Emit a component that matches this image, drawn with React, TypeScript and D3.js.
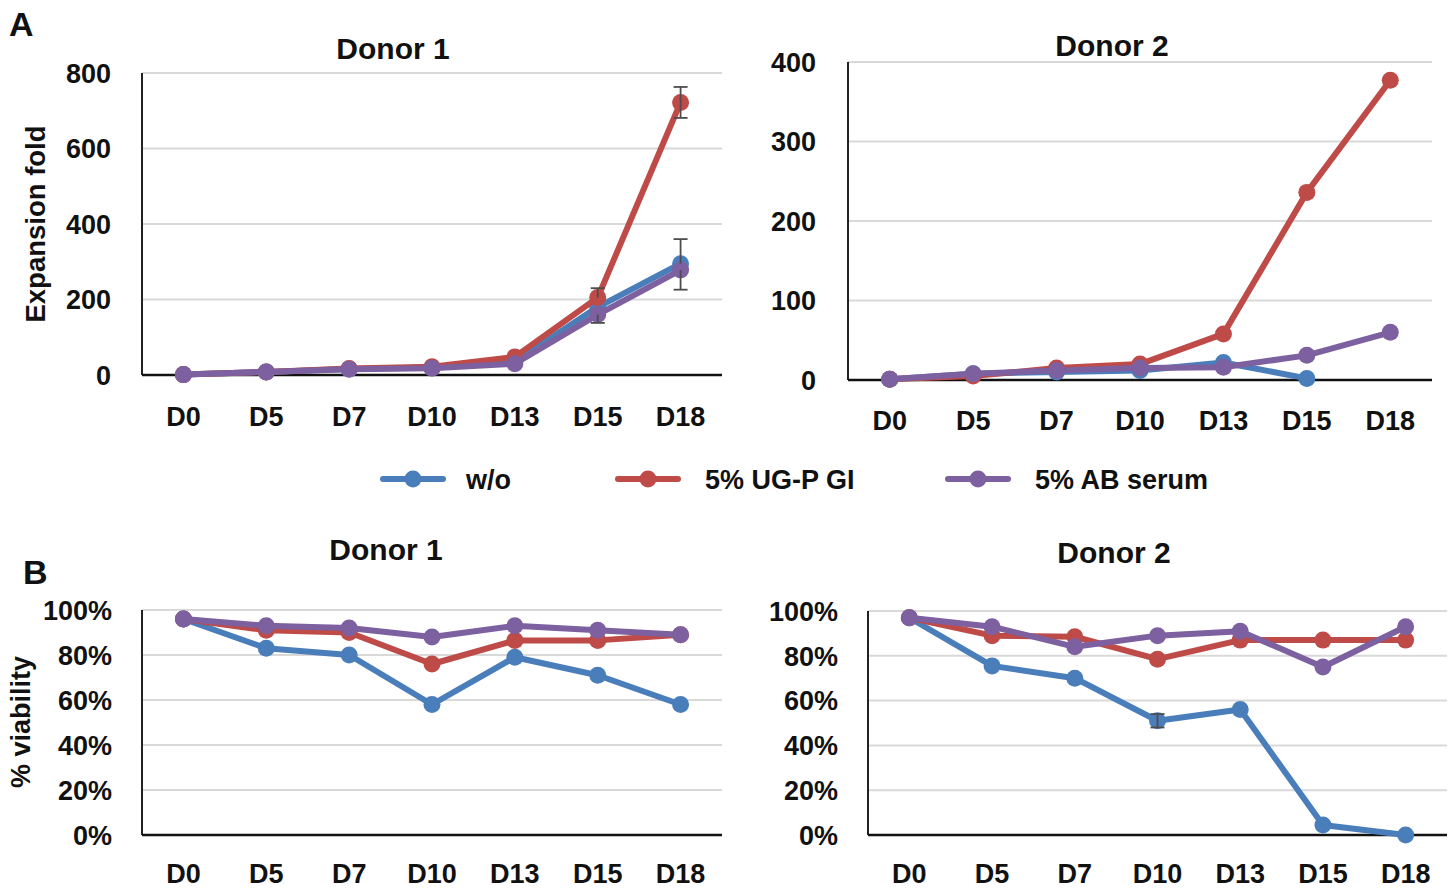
import { useEffect, useRef } from 'react';
import * as d3 from 'd3';

const days = ['D0', 'D5', 'D7', 'D10', 'D13', 'D15', 'D18'];
const seriesNames = ['w/o', '5% UG-P GI', '5% AB serum'];
const seriesColors = ['#4a7ebb', '#be4b48', '#7d60a0'];

// Expansion fold, donor 1
const expD1Wo = [1, 8, 16, 20, 35, 180, 295];
const expD1Ug = [1, 8, 17, 22, 48, 205, 722];
const expD1Ab = [1, 8, 15, 18, 30, 160, 278];
// error bars as upper / lower extents (only the visible parts)
const expD1WoErrUp = [0, 0, 0, 0, 0, 0, 65];
const expD1WoErrDown = [0, 0, 0, 0, 0, 0, 0];
const expD1UgErrUp = [0, 0, 0, 0, 0, 25, 41];
const expD1UgErrDown = [0, 0, 0, 0, 0, 0, 41];
const expD1AbErrUp = [0, 0, 0, 0, 0, 0, 0];
const expD1AbErrDown = [0, 0, 0, 0, 0, 22, 52];

// Expansion fold, donor 2 (w/o stops at D15)
const expD2Wo = [1, 8, 10, 12, 22, 2, null];
const expD2Ug = [1, 5, 15, 20, 58, 236, 377];
const expD2Ab = [1, 8, 12, 15, 16, 31, 60];

// Viability, donor 1
const viaD1Wo = [0.96, 0.83, 0.80, 0.58, 0.79, 0.71, 0.58];
const viaD1Ug = [0.96, 0.91, 0.90, 0.76, 0.865, 0.865, 0.89];
const viaD1Ab = [0.96, 0.93, 0.92, 0.88, 0.93, 0.91, 0.89];

// Viability, donor 2
const viaD2Wo = [0.97, 0.755, 0.70, 0.51, 0.56, 0.045, 0.0];
const viaD2Ug = [0.97, 0.89, 0.885, 0.785, 0.87, 0.87, 0.87];
const viaD2Ab = [0.97, 0.93, 0.84, 0.89, 0.91, 0.75, 0.93];
const viaD2WoErr = [0, 0, 0, 0.03, 0, 0, 0];

const expD1Ticks = [0, 200, 400, 600, 800];
const expD2Ticks = [0, 100, 200, 300, 400];
const viaTicks = [0, 0.2, 0.4, 0.6, 0.8, 1.0];

const FONT = "'Liberation Sans', Arial, sans-serif";

type Err = { up: number[]; down: number[] } | null;

type Panel = {
  title: string;
  x0: number; x1: number; yBottom: number; yTop: number;
  max: number; ticks: number[]; fmt: (v: number) => string;
  series: (number | null)[][];
  errors: Err[];
  titleX: number; titleY: number; tickLabelY: number; yLabelX: number;
};

type Sel = d3.Selection<SVGGElement | SVGSVGElement, unknown, null, undefined>;

function label(parent: Sel, x: number, y: number, text: string, size: number,
  anchor = 'start', rotate = 0, dy = '0') {
  parent.append('text')
    .attr('transform', `translate(${x},${y}) rotate(${rotate})`)
    .attr('text-anchor', anchor).attr('dy', dy)
    .attr('font-family', FONT).attr('font-weight', 'bold').attr('font-size', size)
    .attr('fill', '#111').text(text);
}

export default function App() {
  const svgRef = useRef<SVGSVGElement>(null);

  useEffect(() => {
    if (!svgRef.current) return;
    const svg = d3.select(svgRef.current) as unknown as Sel;
    svg.selectAll('*').remove();

    const pct = (v: number) => `${Math.round(v * 100)}%`;
    const num = (v: number) => `${v}`;

    const panels: Panel[] = [
      { title: 'Donor 1', x0: 142, x1: 722, yBottom: 375, yTop: 73, max: 800, ticks: expD1Ticks, fmt: num,
        series: [expD1Wo, expD1Ug, expD1Ab],
        errors: [
          { up: expD1WoErrUp, down: expD1WoErrDown },
          { up: expD1UgErrUp, down: expD1UgErrDown },
          { up: expD1AbErrUp, down: expD1AbErrDown },
        ],
        titleX: 393, titleY: 59, tickLabelY: 426, yLabelX: 111 },
      { title: 'Donor 2', x0: 848, x1: 1432, yBottom: 380, yTop: 62, max: 400, ticks: expD2Ticks, fmt: num,
        series: [expD2Wo, expD2Ug, expD2Ab], errors: [null, null, null],
        titleX: 1112, titleY: 56, tickLabelY: 430, yLabelX: 816 },
      { title: 'Donor 1', x0: 142, x1: 722, yBottom: 835, yTop: 610, max: 1, ticks: viaTicks, fmt: pct,
        series: [viaD1Wo, viaD1Ug, viaD1Ab], errors: [null, null, null],
        titleX: 386, titleY: 560, tickLabelY: 883, yLabelX: 112 },
      { title: 'Donor 2', x0: 868, x1: 1447, yBottom: 835, yTop: 611, max: 1, ticks: viaTicks, fmt: pct,
        series: [viaD2Wo, viaD2Ug, viaD2Ab], errors: [{ up: viaD2WoErr, down: viaD2WoErr }, null, null],
        titleX: 1114, titleY: 563, tickLabelY: 883, yLabelX: 838 },
    ];

    panels.forEach(p => {
      const g = svg.append('g') as unknown as Sel;
      const x = d3.scalePoint<string>().domain(days).range([p.x0, p.x1]).padding(0.5);
      const y = d3.scaleLinear().domain([0, p.max]).range([p.yBottom, p.yTop]);

      // gridlines
      g.selectAll('line.grid').data(p.ticks.filter(t => t > 0)).join('line')
        .attr('x1', p.x0).attr('x2', p.x1)
        .attr('y1', d => y(d)).attr('y2', d => y(d))
        .attr('stroke', '#d9d9d9').attr('stroke-width', 2);

      // axes lines
      g.append('line').attr('x1', p.x0).attr('x2', p.x0).attr('y1', y(p.max)).attr('y2', y(0))
        .attr('stroke', '#222').attr('stroke-width', 2);
      g.append('line').attr('x1', p.x0).attr('x2', p.x1).attr('y1', y(0)).attr('y2', y(0))
        .attr('stroke', '#111').attr('stroke-width', 2.5);

      // y tick labels
      p.ticks.forEach(t => label(g, p.yLabelX, y(t), p.fmt(t), 27, 'end', 0, '0.36em'));

      // x tick labels
      days.forEach(d => label(g, x(d)!, p.tickLabelY, d, 27, 'middle'));

      // title
      label(g, p.titleX, p.titleY, p.title, 30, 'middle');

      const line = d3.line<number | null>()
        .defined(d => d !== null)
        .x((_, i) => x(days[i])!)
        .y(d => y(d as number));

      p.series.forEach((vals, si) => {
        const color = seriesColors[si];
        g.append('path').datum(vals).attr('d', line)
          .attr('fill', 'none').attr('stroke', color).attr('stroke-width', 6)
          .attr('stroke-linejoin', 'round');
        g.selectAll(`circle.s${si}`).data(vals.map((v, i) => ({ v, i })).filter(d => d.v !== null)).join('circle')
          .attr('cx', d => x(days[d.i])!).attr('cy', d => y(d.v as number)).attr('r', 8.5)
          .attr('fill', color);
      });

      // error bars
      p.series.forEach((vals, si) => {
        const err = p.errors[si];
        if (!err) return;
        vals.forEach((val, i) => {
          const up = err.up[i];
          const down = err.down[i];
          if (val === null || (!up && !down)) return;
          const cx = x(days[i])!;
          const eg = g.append('g').attr('stroke', '#4d4d4d').attr('stroke-width', 1.8);
          eg.append('line').attr('x1', cx).attr('x2', cx).attr('y1', y(val + up)).attr('y2', y(val - down));
          if (up) eg.append('line').attr('x1', cx - 7).attr('x2', cx + 7).attr('y1', y(val + up)).attr('y2', y(val + up));
          if (down) eg.append('line').attr('x1', cx - 7).attr('x2', cx + 7).attr('y1', y(val - down)).attr('y2', y(val - down));
        });
      });
    });

    // panel letters
    label(svg, 9, 36, 'A', 34);
    label(svg, 23, 584, 'B', 34);

    // y axis titles
    label(svg, 45, 224, 'Expansion fold', 27.5, 'middle', -90);
    label(svg, 30, 722, '% viability', 27, 'middle', -90);

    // legend
    const legendX = [383, 618, 948];
    const legendY = 479;
    seriesNames.forEach((name, i) => {
      const lg = svg.append('g') as unknown as Sel;
      lg.append('line').attr('x1', legendX[i]).attr('x2', legendX[i] + 60)
        .attr('y1', legendY).attr('y2', legendY)
        .attr('stroke', seriesColors[i]).attr('stroke-width', 6).attr('stroke-linecap', 'round');
      lg.append('circle').attr('cx', legendX[i] + 30).attr('cy', legendY).attr('r', 8.5).attr('fill', seriesColors[i]);
      label(lg, legendX[i] + (i === 0 ? 83 : 87), legendY, name, 27, 'start', 0, '0.36em');
    });
  }, []);

  return (
    <svg ref={svgRef} width={1454} height={889}
      style={{ position: 'absolute', left: 0, top: 0, background: '#fff', display: 'block' }} />
  );
}
